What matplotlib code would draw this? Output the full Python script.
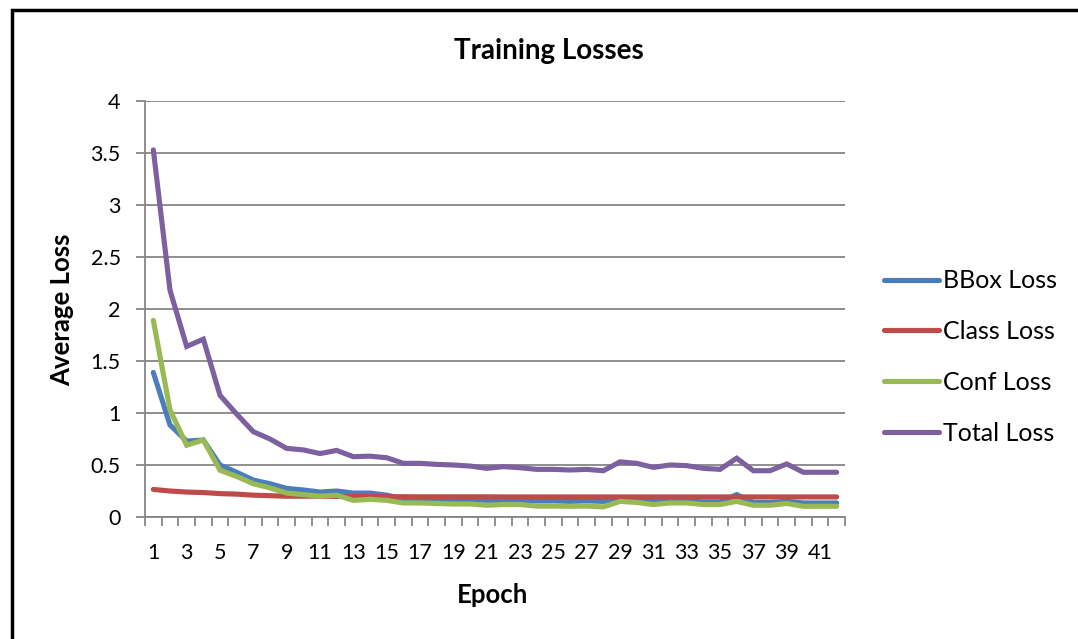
import matplotlib
matplotlib.use("Agg")
import matplotlib.pyplot as plt
from matplotlib.lines import Line2D
from matplotlib.patches import Rectangle
import numpy as np

epochs = list(range(1, 43))

bbox_loss = [1.39, 0.885, 0.73, 0.74, 0.50, 0.43, 0.355, 0.32, 0.275, 0.26,
             0.24, 0.25, 0.23, 0.23, 0.21, 0.175, 0.17, 0.17, 0.165, 0.165,
             0.16, 0.16, 0.16, 0.155, 0.155, 0.15, 0.155, 0.15, 0.175, 0.165,
             0.15, 0.155, 0.155, 0.145, 0.145, 0.215, 0.14, 0.14, 0.15, 0.135,
             0.135, 0.135]
class_loss = [0.265, 0.25, 0.24, 0.235, 0.225, 0.22, 0.21, 0.205, 0.20, 0.20,
              0.20, 0.198, 0.197, 0.196, 0.195, 0.195, 0.194, 0.194, 0.194, 0.194,
              0.194, 0.193, 0.193, 0.193, 0.193, 0.193, 0.193, 0.193, 0.193, 0.193,
              0.193, 0.193, 0.193, 0.193, 0.193, 0.193, 0.193, 0.193, 0.193, 0.193,
              0.193, 0.193]
conf_loss = [1.89, 1.03, 0.69, 0.74, 0.45, 0.39, 0.32, 0.28, 0.23, 0.215,
             0.20, 0.21, 0.16, 0.17, 0.16, 0.135, 0.135, 0.13, 0.125, 0.125,
             0.113, 0.12, 0.12, 0.105, 0.105, 0.103, 0.105, 0.097, 0.15, 0.14,
             0.12, 0.135, 0.135, 0.12, 0.12, 0.15, 0.113, 0.113, 0.13, 0.103,
             0.103, 0.103]
total_loss = [3.53, 2.18, 1.64, 1.71, 1.17, 0.99, 0.82, 0.75, 0.66, 0.645,
              0.61, 0.64, 0.58, 0.585, 0.57, 0.516, 0.516, 0.506, 0.50, 0.49,
              0.468, 0.484, 0.474, 0.458, 0.458, 0.452, 0.458, 0.445, 0.53, 0.516,
              0.477, 0.50, 0.494, 0.468, 0.458, 0.565, 0.445, 0.445, 0.51, 0.43,
              0.43, 0.43]

series = [
    ("BBox Loss", bbox_loss, "#4A7EBB"),
    ("Class Loss", class_loss, "#BE4B48"),
    ("Conf Loss", conf_loss, "#98B954"),
    ("Total Loss", total_loss, "#7D60A0"),
]

plt.rcParams["font.family"] = ["Lato", "DejaVu Sans"]

W, H = 1078, 639
fig = plt.figure(figsize=(W / 100, H / 100), dpi=100)
fig.patch.set_facecolor("white")

# outer chart frame (left and top edges visible)
fig.add_artist(Rectangle((12 / W, -0.1), 1.2, (H - 10) / H + 0.1,
                         transform=fig.transFigure, fill=False,
                         edgecolor="black", linewidth=2.5))

left, right, top, bottom = 145, 845, 101, 517
ax = fig.add_axes([left / W, 1 - bottom / H, (right - left) / W, (bottom - top) / H])

grid_c = "#868686"
for name, vals, col in series:
    ax.plot(epochs, vals, color=col, linewidth=3.7, solid_joinstyle="miter",
            solid_capstyle="round", label=name)

ax.set_xlim(0.5, 42.5)
ax.set_ylim(0, 4)
ax.set_yticks(np.arange(0, 4.01, 0.5))
ax.set_yticklabels(["0", "0.5", "1", "1.5", "2", "2.5", "3", "3.5", "4"])
ax.yaxis.grid(True, color=grid_c, linewidth=1.3)
ax.set_axisbelow(True)

ax.set_xticks(epochs[::2])
ax.set_xticklabels([str(e) for e in epochs[::2]])
ax.set_xticks(np.arange(0.5, 43, 1), minor=True)
ax.tick_params(axis="x", which="major", length=0, pad=19, labelsize=15.5)
ax.tick_params(axis="x", which="minor", length=6.5, width=1.3, color=grid_c, direction="out")
ax.tick_params(axis="y", which="major", length=6.5, width=1.3, color=grid_c,
               direction="out", labelsize=15.5, pad=11)

for s in ["top", "right"]:
    ax.spines[s].set_visible(False)
for s in ["left", "bottom"]:
    ax.spines[s].set_color(grid_c)
    ax.spines[s].set_linewidth(1.3)

fig.text(549 / W, 1 - 51 / H, "Training Losses", ha="center", va="center",
         fontsize=20, fontweight="bold")
fig.text(62 / W, 1 - 310 / H, "Average Loss", ha="center", va="center",
         rotation=90, fontsize=18.5, fontweight="bold")
fig.text(493 / W, 1 - 595 / H, "Epoch", ha="center", va="center",
         fontsize=18.5, fontweight="bold")

handles = [Line2D([0], [0], color=c, linewidth=3.7, solid_capstyle="round")
           for _, _, c in series]
fig.legend(handles, [n for n, _, _ in series], loc="center left",
           bbox_to_anchor=(874 / W, 1 - 357 / H), frameon=False, fontsize=18,
           handlelength=2.2, handletextpad=0.16, labelspacing=1.11,
           borderaxespad=0)

fig.savefig("out.png", dpi=100, facecolor="white")
